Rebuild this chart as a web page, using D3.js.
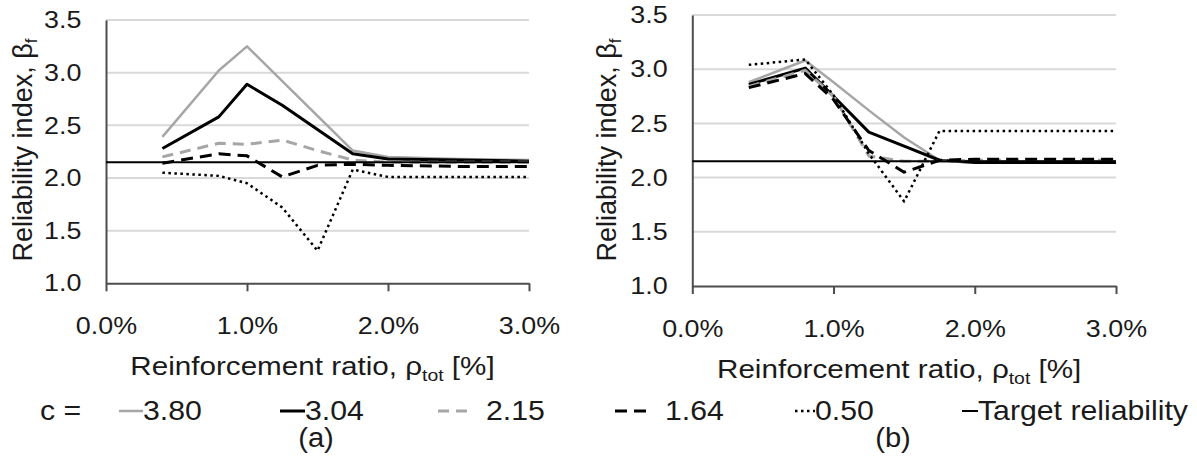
<!DOCTYPE html>
<meta charset="utf-8">

<style>
body { margin: 0; background: #fff; }
svg text { font-family: "Liberation Sans", Arial, sans-serif; fill: #1a1a1a; }
.axis path, .axis line { stroke: #4d4d4d; stroke-width: 2; }
.grid line { stroke: #d9d9d9; stroke-width: 2; }
</style>

<svg class="chart"></svg>

<script src="https://d3js.org/d3.v7.min.js"></script>
<script>

  // reinforcement ratio [%] at the computed points
  var ratios = [0.4, 0.8, 1.0, 1.25, 1.5, 1.75, 2.0, 2.5, 3.0];

  var seriesNames = ["3.80", "3.04", "2.15", "1.64", "0.50"];

  // panel (a)
  var a380 = [2.39, 3.02, 3.25, 2.92, 2.59, 2.26, 2.20, 2.18, 2.17];
  var a304 = [2.28, 2.58, 2.89, 2.69, 2.46, 2.23, 2.18, 2.17, 2.16];
  var a215 = [2.20, 2.33, 2.32, 2.36, 2.26, 2.17, 2.15, 2.15, 2.15];
  var a164 = [2.14, 2.23, 2.21, 2.01, 2.12, 2.13, 2.12, 2.11, 2.11];
  var a050 = [2.05, 2.02, 1.95, 1.72, 1.31, 2.08, 2.01, 2.01, 2.01];

  // panel (b)
  var b380 = [2.88, 3.08, 2.88, 2.62, 2.37, 2.16, 2.15, 2.15, 2.15];
  var b304 = [2.86, 3.01, 2.75, 2.42, 2.29, 2.16, 2.14, 2.14, 2.14];
  var b215 = [2.84, 2.99, 2.75, 2.20, 2.15, 2.15, 2.16, 2.16, 2.16];
  var b164 = [2.83, 2.96, 2.72, 2.25, 2.05, 2.16, 2.17, 2.17, 2.17];
  var b050 = [3.04, 3.09, 2.76, 2.22, 1.78, 2.43, 2.43, 2.43, 2.43];

  var targetBeta = 2.15;
  var xTicks = [0, 1, 2, 3];
  var yTicks = [1.0, 1.5, 2.0, 2.5, 3.0, 3.5];

  var styles = [
    { color: "#a6a6a6", width: 2.5, dash: null },
    { color: "#000",    width: 3,   dash: null },
    { color: "#a6a6a6", width: 3,   dash: "11,7" },
    { color: "#000",    width: 3,   dash: "12,7" },
    { color: "#000",    width: 2.5, dash: "2.5,3.5" }
  ];

  var panels = [
    { label: "(a)", series: [a380, a304, a215, a164, a050], left: 106, right: 529, top: 20, bottom: 283.3, yTitleX: 32, labelX: 316 },
    { label: "(b)", series: [b380, b304, b215, b164, b050], left: 692.3, right: 1116, top: 15, bottom: 286, yTitleX: 616, labelX: 893 }
  ];

  var stretch = 1.12;

  var svg = d3.select(".chart")
      .attr("width", 1197)
      .attr("height", 461);

  svg.append("rect")
      .attr("width", 1197)
      .attr("height", 461)
      .attr("fill", "#fff");

  panels.forEach(drawPanel);
  drawLegend();

  function drawPanel(p) {
    var x = d3.scaleLinear().domain([0, 3]).range([p.left, p.right]);
    var y = d3.scaleLinear().domain([1, 3.5]).range([p.bottom, p.top]);

    var g = svg.append("g");

    g.append("g")
        .attr("class", "grid")
      .selectAll("line")
        .data(yTicks.slice(1))
      .enter().append("line")
        .attr("x1", x(0))
        .attr("x2", x(3))
        .attr("y1", function(d) { return y(d); })
        .attr("y2", function(d) { return y(d); });

    g.append("g")
        .attr("class", "axis")
        .attr("transform", "translate(0," + y(1) + ")")
        .call(d3.axisBottom(x)
          .tickValues(xTicks)
          .tickSize(8)
          .tickPadding(26)
          .tickSizeOuter(0)
          .tickFormat(function(d) { return d.toFixed(1) + "%"; }));

    g.append("g")
        .attr("class", "axis")
        .attr("transform", "translate(" + x(0) + ",0)")
        .call(d3.axisLeft(y)
          .tickValues(yTicks)
          .tickSize(0)
          .tickPadding(22)
          .tickSizeOuter(0)
          .tickFormat(function(d) { return d.toFixed(1); }));

    g.selectAll(".axis text")
        .attr("font-family", null)
        .attr("fill", null)
        .style("font-size", "24px")
        .attr("transform", "scale(" + stretch + ",1)");

    var line = d3.line()
        .x(function(d, i) { return x(ratios[i]); })
        .y(function(d) { return y(d); });

    g.append("g")
      .selectAll("path")
        .data(p.series)
      .enter().append("path")
        .attr("d", line)
        .attr("fill", "none")
        .attr("stroke", function(d, i) { return styles[i].color; })
        .attr("stroke-width", function(d, i) { return styles[i].width; })
        .attr("stroke-dasharray", function(d, i) { return styles[i].dash; })
        .attr("stroke-linejoin", "round");

    g.append("line")
        .attr("x1", x(0))
        .attr("x2", x(3))
        .attr("y1", y(targetBeta))
        .attr("y2", y(targetBeta))
        .attr("stroke", "#000")
        .attr("stroke-width", 2);

    // axis titles
    var xt = g.append("text")
        .attr("transform", "translate(" + ((p.left + p.right) / 2 - 5) + "," + (y(1) + 92) + ") scale(1.14,1)")
        .attr("text-anchor", "middle")
        .style("font-size", "26px");
    xt.append("tspan").text("Reinforcement ratio, \u03c1");
    xt.append("tspan").attr("dy", 6).style("font-size", "17px").text("tot");
    xt.append("tspan").attr("dy", -6).text(" [%]");

    var yt = g.append("text")
        .attr("transform", "translate(" + p.yTitleX + "," + 150 + ") rotate(-90)")
        .attr("text-anchor", "middle")
        .style("font-size", "27px");
    yt.append("tspan").text("Reliability index, \u03b2");
    yt.append("tspan").attr("dy", 5).style("font-size", "17px").text("f");

    g.append("text")
        .attr("transform", "translate(" + p.labelX + ",447) scale(1.08,1)")
        .attr("text-anchor", "middle")
        .style("font-size", "27px")
        .text(p.label);
  }

  function drawLegend() {
    var legendY = 411;
    var lg = svg.append("g");

    // [line start, line end, text start] for each entry
    var slots = [[119, 143, 143], [280, 305, 305], [438, 472, 486], [615, 650, 665], [795, 815, 815]];

    lg.append("text")
        .attr("transform", "translate(40," + (legendY + 9) + ") scale(1.08,1)")
        .style("font-size", "28px")
        .text("c =");

    seriesNames.forEach(function(name, i) {
      var s = styles[i];
      lg.append("line")
          .attr("x1", slots[i][0])
          .attr("x2", slots[i][1])
          .attr("y1", legendY)
          .attr("y2", legendY)
          .attr("stroke", s.color)
          .attr("stroke-width", s.width)
          .attr("stroke-dasharray", s.dash);
      lg.append("text")
          .attr("transform", "translate(" + slots[i][2] + "," + (legendY + 9) + ") scale(1.08,1)")
          .style("font-size", "28px")
          .text(name);
    });

    lg.append("line")
        .attr("x1", 962)
        .attr("x2", 978)
        .attr("y1", legendY)
        .attr("y2", legendY)
        .attr("stroke", "#000")
        .attr("stroke-width", 2);
    lg.append("text")
        .attr("transform", "translate(978," + (legendY + 9) + ") scale(1.08,1)")
        .style("font-size", "28px")
        .text("Target reliability");
  }

</script>
